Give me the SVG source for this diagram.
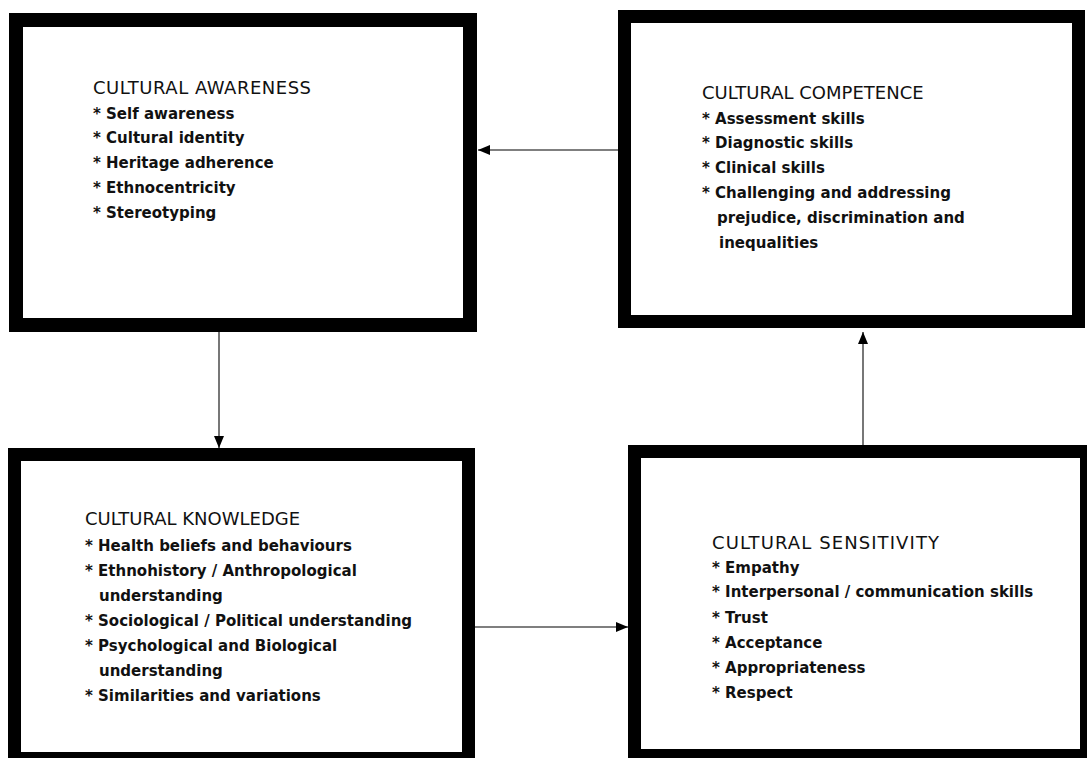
<svg xmlns="http://www.w3.org/2000/svg" width="1087" height="758" viewBox="0 0 1087 758">
<defs>
<style>
.box{fill:#fff;stroke:#000;}
.t{font-family:"DejaVu Sans","Liberation Sans",sans-serif;font-size:18px;fill:#111;}
.i{font-family:"DejaVu Sans","Liberation Sans",sans-serif;font-size:15px;font-weight:bold;fill:#111;}
.c{stroke:#555;stroke-width:1.6;fill:none;}
</style>
<marker id="ah" markerUnits="userSpaceOnUse" markerWidth="13" markerHeight="11" refX="12" refY="5" orient="auto">
<path d="M0,0 L12,5 L0,10 z" fill="#000"/>
</marker>
</defs>
<rect width="1087" height="758" fill="#fff"/>
<g id="awareness">
<rect class="box" x="16" y="20" width="454" height="305" stroke-width="14"/>
<text class="t" x="93" y="94" textLength="218" lengthAdjust="spacing">CULTURAL AWARENESS</text>
<text class="i" x="93" y="119">* Self awareness</text>
<text class="i" x="93" y="143">* Cultural identity</text>
<text class="i" x="93" y="168">* Heritage adherence</text>
<text class="i" x="93" y="193">* Ethnocentricity</text>
<text class="i" x="93" y="218">* Stereotyping</text>
</g>
<g id="competence">
<rect class="box" x="624.5" y="16.5" width="454" height="305" stroke-width="13"/>
<text class="t" x="702" y="99">CULTURAL COMPETENCE</text>
<text class="i" x="702" y="124">* Assessment skills</text>
<text class="i" x="702" y="148">* Diagnostic skills</text>
<text class="i" x="702" y="173">* Clinical skills</text>
<text class="i" x="702" y="198">* Challenging and addressing</text>
<text class="i" x="717" y="223">prejudice, discrimination and</text>
<text class="i" x="719" y="248">inequalities</text>
</g>
<g id="knowledge">
<rect class="box" x="14.5" y="454.5" width="454" height="304" stroke-width="13"/>
<text class="t" x="85" y="525">CULTURAL KNOWLEDGE</text>
<text class="i" x="85" y="551">* Health beliefs and behaviours</text>
<text class="i" x="85" y="576">* Ethnohistory / Anthropological</text>
<text class="i" x="99" y="601">understanding</text>
<text class="i" x="85" y="626">* Sociological / Political understanding</text>
<text class="i" x="85" y="651">* Psychological and Biological</text>
<text class="i" x="99" y="676">understanding</text>
<text class="i" x="85" y="701">* Similarities and variations</text>
</g>
<g id="sensitivity">
<rect class="box" x="634.5" y="451.5" width="452" height="304" stroke-width="13"/>
<text class="t" x="712" y="549" textLength="227" lengthAdjust="spacing">CULTURAL SENSITIVITY</text>
<text class="i" x="712" y="573">* Empathy</text>
<text class="i" x="712" y="597">* Interpersonal / communication skills</text>
<text class="i" x="712" y="623">* Trust</text>
<text class="i" x="712" y="648">* Acceptance</text>
<text class="i" x="712" y="673">* Appropriateness</text>
<text class="i" x="712" y="698">* Respect</text>
</g>
<g id="connectors">
<line class="c" x1="618" y1="150" x2="478" y2="150" marker-end="url(#ah)"/>
<line class="c" x1="219" y1="332" x2="219" y2="448" marker-end="url(#ah)"/>
<line class="c" x1="475" y1="627" x2="628" y2="627" marker-end="url(#ah)"/>
<line class="c" x1="863" y1="445" x2="863" y2="332" marker-end="url(#ah)"/>
</g>
</svg>
